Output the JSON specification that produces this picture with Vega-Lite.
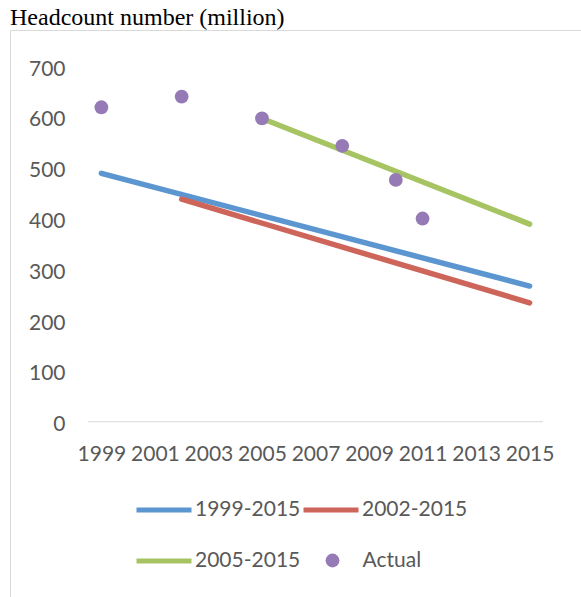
{
  "$schema": "https://vega.github.io/schema/vega-lite/v6.json",
  "autosize": {"type": "none"},
  "padding": {"left": 10, "top": 30, "right": 0, "bottom": 0},
  "width": 580,
  "height": 580,
  "background": "white",
  "title": {
    "text": "Headcount number (million)",
    "font": "Liberation Serif",
    "fontSize": 24,
    "fontWeight": "normal",
    "color": "#000000",
    "anchor": "start",
    "frame": "group",
    "offset": 0
  },
  "config": {
    "view": {"stroke": "#d9d9d9", "strokeWidth": 1},
    "legend": {"padding": 0}
  },
  "datasets": {
    "lines": [
      {"series": "1999-2015", "year": 1999, "value": 489},
      {"series": "1999-2015", "year": 2015, "value": 267},
      {"series": "2002-2015", "year": 2002, "value": 438},
      {"series": "2002-2015", "year": 2015, "value": 234},
      {"series": "2005-2015", "year": 2005, "value": 597},
      {"series": "2005-2015", "year": 2015, "value": 389}
    ],
    "actual": [
      {"series": "Actual", "year": 1999, "value": 619},
      {"series": "Actual", "year": 2002, "value": 640},
      {"series": "Actual", "year": 2005, "value": 597},
      {"series": "Actual", "year": 2008, "value": 543},
      {"series": "Actual", "year": 2010, "value": 476},
      {"series": "Actual", "year": 2011, "value": 400}
    ],
    "baseline": [
      {"start": 1998.5, "end": 2015.5, "value": 0}
    ]
  },
  "layer": [
    {
      "data": {"name": "baseline"},
      "mark": {"type": "rule", "color": "#d9d9d9", "strokeWidth": 1},
      "encoding": {
        "x": {
          "field": "start", "type": "quantitative",
          "scale": {"domain": [1995.586, 2017.256], "nice": false, "zero": false},
          "axis": {
            "orient": "bottom", "offset": -188.3, "values": [1999, 2001, 2003, 2005, 2007, 2009, 2011, 2013, 2015],
            "format": "d", "domain": false, "ticks": false, "grid": false, "title": null,
            "labelFont": "Lato", "labelFontSize": 21, "labelColor": "#595959", "labelPadding": 22,
            "labelFlush": false, "labelOverlap": false
          }
        },
        "x2": {"field": "end"},
        "y": {
          "field": "value", "type": "quantitative",
          "scale": {"domain": [-370.7, 771.1], "nice": false, "zero": false},
          "axis": {
            "orient": "left", "offset": -55, "values": [0, 100, 200, 300, 400, 500, 600, 700],
            "domain": false, "ticks": false, "grid": false, "title": null,
            "labelFont": "Lato", "labelFontSize": 21, "labelColor": "#595959", "labelPadding": 0,
            "labelOffset": 3, "labelFlush": false, "labelOverlap": false
          }
        }
      }
    },
    {
      "data": {"name": "lines"},
      "mark": {"type": "line", "strokeWidth": 5.5, "strokeCap": "round"},
      "encoding": {
        "x": {"field": "year", "type": "quantitative"},
        "y": {"field": "value", "type": "quantitative"},
        "detail": {"field": "series"},
        "stroke": {
          "field": "series", "type": "nominal",
          "scale": {"domain": ["1999-2015", "2002-2015", "2005-2015"], "range": ["#5b96d0", "#cd655a", "#a7c463"]},
          "legend": {
            "orient": "none", "direction": "horizontal", "legendX": 124, "legendY": 450, "columns": 2, "title": null,
            "symbolType": "stroke", "symbolSize": 3025, "symbolStrokeWidth": 5,
            "labelFont": "Lato", "labelFontSize": 21, "labelColor": "#595959",
            "labelOffset": 1, "columnPadding": -8, "rowPadding": 11
          }
        }
      }
    },
    {
      "data": {"name": "actual"},
      "mark": {"type": "point", "filled": true, "size": 190, "opacity": 1},
      "encoding": {
        "x": {"field": "year", "type": "quantitative"},
        "y": {"field": "value", "type": "quantitative"},
        "fill": {
          "field": "series", "type": "nominal",
          "scale": {"domain": ["Actual"], "range": ["#967ab5"]},
          "legend": {
            "orient": "none", "legendX": 312, "legendY": 520, "title": null,
            "symbolType": "circle", "symbolSize": 190, "symbolStrokeWidth": 0, "symbolOpacity": 1,
            "labelFont": "Lato", "labelFontSize": 21, "labelColor": "#595959", "labelOffset": 19.5
          }
        }
      }
    }
  ]
}
